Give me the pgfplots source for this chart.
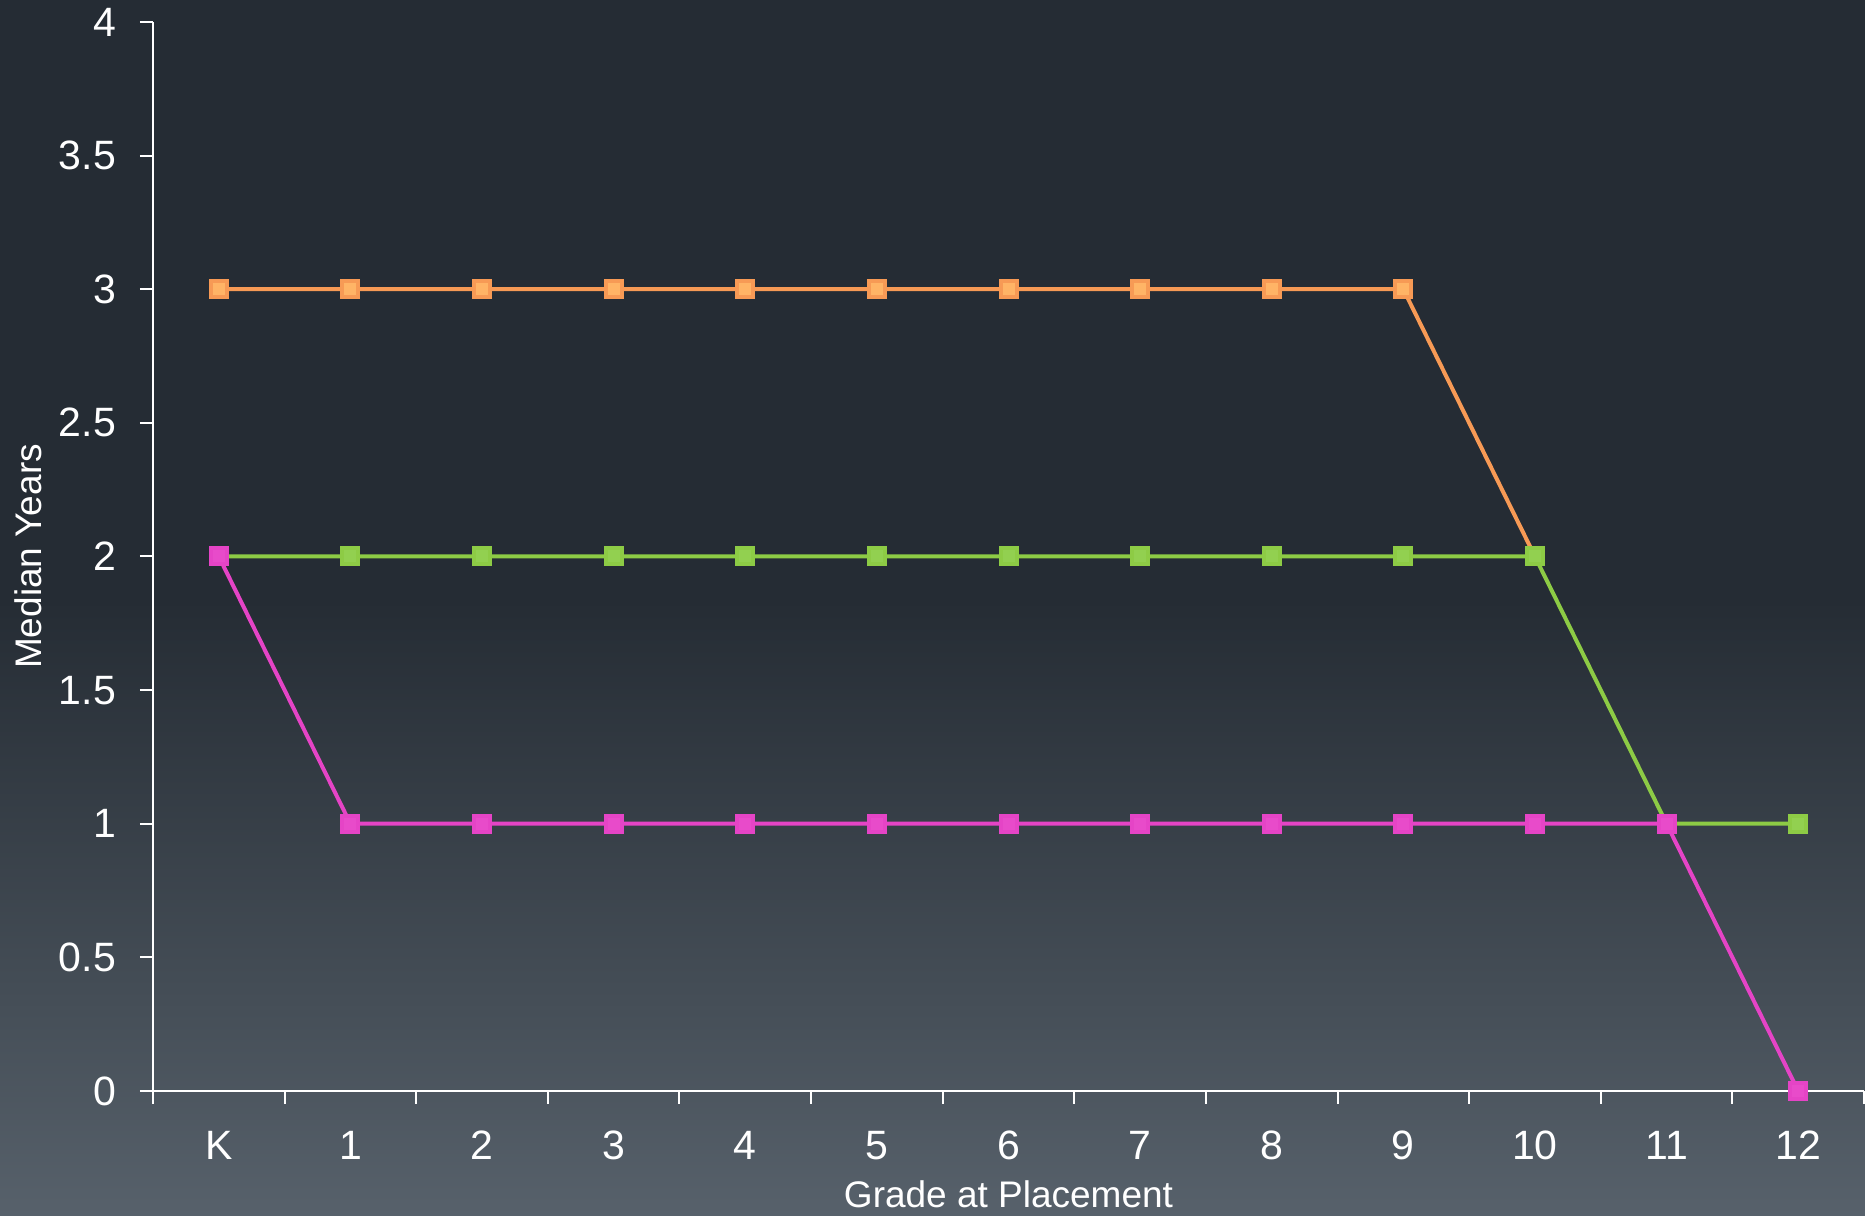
\documentclass[border=0pt]{standalone}
\usepackage{pgfplots}
\pgfplotsset{compat=1.18}
\usepackage{fontspec}
\setmainfont{Liberation Sans}

\definecolor{bgtop}{HTML}{252C34}
\definecolor{bglow}{HTML}{454E57}
\definecolor{bgbot}{HTML}{57616B}
\definecolor{orangeline}{HTML}{F79A55}
\definecolor{orangefill}{HTML}{FFB466}
\definecolor{greenline}{HTML}{8DCB45}
\definecolor{greenfill}{HTML}{92D050}
\definecolor{magline}{HTML}{E544C6}
\definecolor{magfill}{HTML}{E84BCA}

\begin{document}
\begin{tikzpicture}
% page background with the lower part fading lighter
\fill[bgtop] (-76.5pt,245.5pt) rectangle (856pt,545.5pt);
\shade[top color=bgtop, bottom color=bglow] (-76.5pt,45.5pt) rectangle (856pt,245.6pt);
\shade[top color=bglow, bottom color=bgbot] (-76.5pt,-62.5pt) rectangle (856pt,45.6pt);

\begin{axis}[
  scale only axis,
  width=855.5pt, height=534.5pt,
  xmin=-0.5, xmax=12.5,
  ymin=0, ymax=4,
  axis x line=bottom, axis y line=left,
  axis line style={white, line width=1pt, -},
  every tick/.style={white, line width=1pt},
  tick align=outside,
  major tick length=6.5pt,
  xtick={-0.5,0.5,...,12.5},
  x tick label as interval,
  xticklabels={K,1,2,3,4,5,6,7,8,9,10,11,12},
  ytick={0,0.5,...,4},
  yticklabels={0,0.5,1,1.5,2,2.5,3,3.5,4},
  ticklabel style={white, font=\fontsize{20.5}{23}\selectfont},
  yticklabel style={xshift=-8.5pt},
  xticklabel style={yshift=-10pt},
  /pgf/number format/assume math mode=true,
  xlabel={Grade at Placement},
  ylabel={Median Years},
  label style={white, font=\fontsize{18.5}{21}\selectfont},
  xlabel style={at={(axis description cs:0.5,0)}, anchor=center, yshift=-51.5pt},
  ylabel style={at={(axis description cs:0,0.5)}, anchor=center, yshift=62.5pt},
  clip=false,
  every axis plot/.append style={line width=2pt, mark=square*, mark size=4pt, mark options={line width=0.8pt, solid}},
]
\addplot[color=orangeline, mark options={fill=orangefill, draw=orangeline}] coordinates {
  (0,3) (1,3) (2,3) (3,3) (4,3) (5,3) (6,3) (7,3) (8,3) (9,3) (10,2)
};
\addplot[color=greenline, mark options={fill=greenfill, draw=greenline}] coordinates {
  (0,2) (1,2) (2,2) (3,2) (4,2) (5,2) (6,2) (7,2) (8,2) (9,2) (10,2) (11,1) (12,1)
};
\addplot[color=magline, mark options={fill=magfill, draw=magline}] coordinates {
  (0,2) (1,1) (2,1) (3,1) (4,1) (5,1) (6,1) (7,1) (8,1) (9,1) (10,1) (11,1) (12,0)
};
\end{axis}
\end{tikzpicture}
\end{document}
